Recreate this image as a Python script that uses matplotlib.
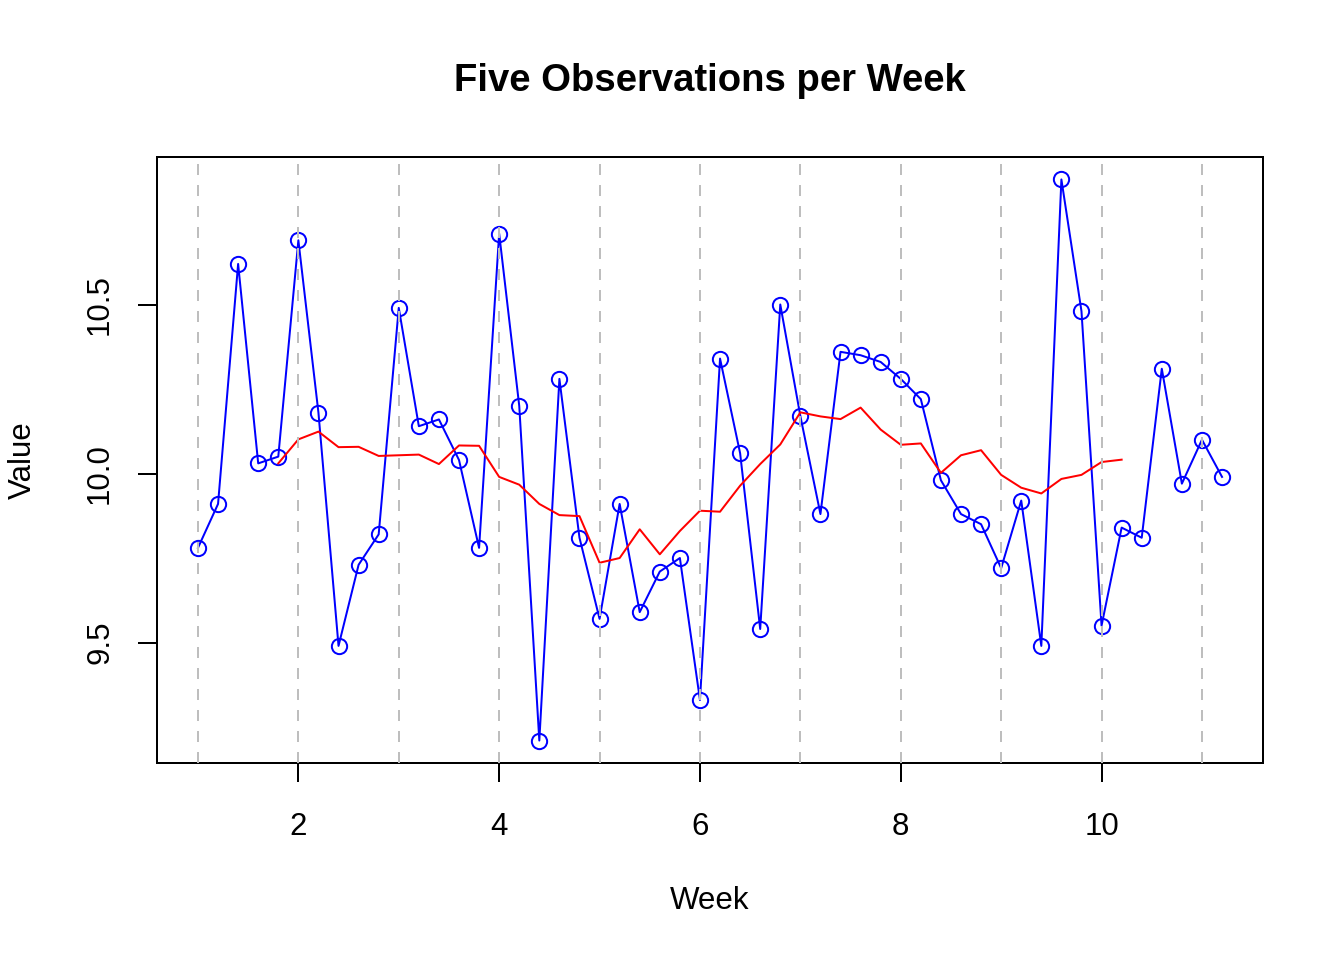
import matplotlib
matplotlib.use("Agg")
import matplotlib.pyplot as plt

plt.rcParams["font.family"] = ["Liberation Sans", "DejaVu Sans"]

# observation times (week + fraction) and observed values
weeks = [1.0, 1.2, 1.4, 1.6, 1.8, 2.0, 2.2, 2.4, 2.6, 2.8,
         3.0, 3.2, 3.4, 3.6, 3.8, 4.0, 4.2, 4.4, 4.6, 4.8,
         5.0, 5.2, 5.4, 5.6, 5.8, 6.0, 6.2, 6.4, 6.6, 6.8,
         7.0, 7.2, 7.4, 7.6, 7.8, 8.0, 8.2, 8.4, 8.6, 8.8,
         9.0, 9.2, 9.4, 9.6, 9.8, 10.0, 10.2, 10.4, 10.6, 10.8,
         11.0, 11.2]
values = [9.78, 9.91, 10.62, 10.03, 10.05, 10.69, 10.18, 9.49, 9.73, 9.82,
          10.49, 10.14, 10.16, 10.04, 9.78, 10.71, 10.20, 9.21, 10.28, 9.81,
          9.57, 9.91, 9.59, 9.71, 9.75, 9.33, 10.34, 10.06, 9.54, 10.50,
          10.17, 9.88, 10.36, 10.35, 10.33, 10.28, 10.22, 9.98, 9.88, 9.85,
          9.72, 9.92, 9.49, 10.87, 10.48, 9.55, 9.84, 9.81, 10.31, 9.97,
          10.10, 9.99]

# smoothed (two-week) series
smooth_weeks = weeks[4:47]
smooth_values = [10.030, 10.101, 10.124, 10.078, 10.079, 10.052, 10.054, 10.056, 10.028, 10.083,
                 10.082, 9.990, 9.967, 9.910, 9.877, 9.874, 9.736, 9.750, 9.835, 9.761,
                 9.830, 9.890, 9.887, 9.964, 10.028, 10.086, 10.181, 10.169, 10.161, 10.195,
                 10.130, 10.085, 10.089, 10.002, 10.054, 10.069, 9.996, 9.958, 9.941, 9.984,
                 9.996, 10.034, 10.041]

week_lines = [1, 2, 3, 4, 5, 6, 7, 8, 9, 10, 11]
x_ticks = [2, 4, 6, 8, 10]
y_ticks = [9.5, 10.0, 10.5]
y_tick_labels = ["9.5", "10.0", "10.5"]

W, H = 1344, 960
fig = plt.figure(figsize=(W / 100, H / 100), dpi=100)
ax = fig.add_axes([157 / W, 1 - 763 / H, (1263 - 157) / W, (763 - 157) / H])

ax.plot(weeks, values, color="blue", lw=1.44, marker="o", ms=11,
        mfc="none", mec="blue", mew=1.44, zorder=2)
ax.plot(smooth_weeks, smooth_values, color="red", lw=1.44, zorder=3)
for w in week_lines:
    ax.axvline(w, color="#BEBEBE", lw=1.44, linestyle=(0, (5.5, 5)), zorder=4)

# R-style 4% padding around the data range
xr = max(weeks) - min(weeks)
yr = max(values) - min(values)
ax.set_xlim(min(weeks) - 0.04 * xr, max(weeks) + 0.04 * xr)
ax.set_ylim(min(values) - 0.04 * yr, max(values) + 0.04 * yr)

ax.set_xticks(x_ticks)
ax.set_xticklabels([str(t) for t in x_ticks])
ax.set_yticks(y_ticks)
ax.set_yticklabels(y_tick_labels, rotation=90, va="center")
ax.tick_params(axis="both", direction="out", length=13.7, width=1.44,
               labelsize=22.5, color="black")
ax.tick_params(axis="x", pad=21.5)
ax.tick_params(axis="y", pad=16.5)
for sp in ax.spines.values():
    sp.set_linewidth(1.44)

cx = (157 + 1263) / 2 / W
fig.text(cx, 1 - 81 / H, "Five Observations per Week", ha="center", va="center",
         fontsize=27.5, fontweight="bold")
fig.text(cx, 1 - 901 / H, "Week", ha="center", va="center", fontsize=22.5)
fig.text(22.5 / W, 1 - 460 / H, "Value", ha="center", va="center",
         rotation=90, fontsize=22.5)

fig.savefig("out.png", dpi=100)
plt.close(fig)
